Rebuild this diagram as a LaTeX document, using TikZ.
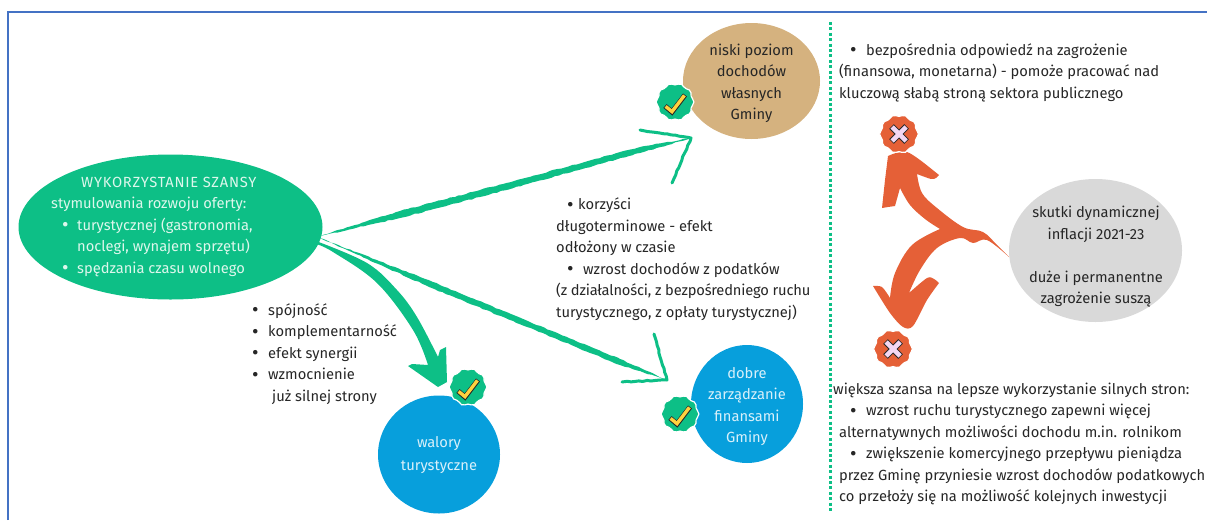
\documentclass[tikz,border=0pt]{standalone}
\usepackage{fontspec}
\setmainfont{Fira Sans}
\definecolor{gr}{HTML}{0DBF86}
\definecolor{rd}{HTML}{E56037}
\definecolor{tan1}{HTML}{D5B27F}
\definecolor{bl}{HTML}{079FDC}
\definecolor{gy}{HTML}{D9D9D9}
\definecolor{frm}{HTML}{4472C4}
\definecolor{ink}{HTML}{262626}
\definecolor{yl}{HTML}{FFD23F}
\definecolor{pk}{HTML}{F3D7F3}
\definecolor{lgr}{HTML}{DDF7EC}
\definecolor{lbl}{HTML}{D8F0FA}
\newcommand{\blt}[2]{\hspace*{#1pt}\makebox[#2pt][l]{\raisebox{-1.6pt}{\fontsize{20}{20}\selectfont •}}}
\usetikzlibrary{shapes.geometric,decorations.pathmorphing}
\tikzset{
  txt/.style={inner sep=0pt,anchor=north west,align=left,text=ink,font=\fontsize{14.7}{21.5}\selectfont},
  inner/.style={inner sep=0pt,align=center,font=\fontsize{14.7}{21.5}\selectfont},
  blob/.style={ellipse,fill=#1,inner sep=0pt},
  wavy/.style={fill=#1,draw=white,line width=1.2pt},
  badgeshape/.pic={\path[pic actions] plot[domain=0:350,samples=36,smooth cycle] ({(#1+0.9*cos(10*\x))*cos(\x)},{(#1+0.9*cos(10*\x))*sin(\x)});},
  checkmark/.pic={
    \draw[ink,line width=5pt,line join=miter] (-10,4)--(-3,10)--(10,-7);
    \draw[yl,line width=3.4pt,line join=miter] (-9.4,4.4)--(-3,9.6)--(9.4,-6.6);},
  crossmark/.pic={
    \draw[ink,line width=6.4pt] (-7.5,-7.5)--(7.5,7.5) (-7.5,7.5)--(7.5,-7.5);
    \draw[pk,line width=4.6pt] (-7,-7)--(7,7) (-7,7)--(7,-7);},
  rough/.style={decorate,decoration={random steps,segment length=4pt,amplitude=0.5pt}},
  barb/.style={draw=gr,line width=3pt,line cap=round,line join=round,rough},
}
\pgfmathsetseed{7}
\begin{document}
\begin{tikzpicture}[x=1pt,y=-1pt]
\useasboundingbox (0,0) rectangle (1207,520);
% frame and divider
\coordinate (fa) at (8,520); \coordinate (fb) at (8,12); \coordinate (fc) at (1207,12);
\draw[frm,line width=1.8pt] (fa)--(fb)--(fc);
\coordinate (da) at (830,22); \coordinate (db) at (830,512);
\draw[gr,line width=3pt,dash pattern=on 3pt off 2.4pt] (da)--(db);
% blobs
\node[blob=gr,minimum width=304pt,minimum height=145pt] (src) at (170.5,227) {};
\node[blob=tan1,minimum width=137pt,minimum height=116pt] (tanb) at (751.5,81) {};
\node[blob=bl,minimum width=122pt,minimum height=118pt] (wal) at (439,454.5) {};
\node[blob=bl,minimum width=112pt,minimum height=118pt] (dob) at (747,404) {};
\node[blob=gy,minimum width=173pt,minimum height=143pt] (sk) at (1095.5,250.5) {};
% thin green arrows
\coordinate (upS) at (320,236); \coordinate (upT) at (691,138);
\coordinate (upA) at (640,130); \coordinate (upB) at (672,183);
\fill[gr,rough] (upS) -- (400,211) -- (480,190) -- (640,147) -- (upT) -- (640,153) -- (480,197) -- (400,218) -- cycle;
\draw[barb] (upA) -- (upT) -- (upB);
\coordinate (dnS) at (320,238); \coordinate (dnT) at (667,380);
\coordinate (dnA) at (654,334); \coordinate (dnB) at (622,382);
\fill[gr,rough] (dnS) -- (433,282) -- (620,359) -- (dnT) -- (620,365) -- (433,288.5) -- cycle;
\draw[barb] (dnA) -- (dnT) -- (dnB);
% thick green arrow
\fill[gr,line join=round] plot[smooth,tension=0.6] coordinates {(316,241) (367,263) (397,290) (417,317) (438,357)}
  -- (440,350) -- (446,347) -- (447,382) -- (438,387) -- (408,366) -- (412,364) -- (428,365)
  -- plot[smooth,tension=0.6] coordinates {(428,365) (413,330) (377,283) (333,252) (316,244)} -- cycle;
% thick red arrow
\fill[rd,line join=round]
  plot[smooth,tension=0.5] coordinates {(888,156) (896,153) (907,152) (920,160) (939,175)}
  -- plot[smooth,tension=0.5] coordinates {(939,175) (936,178) (931,179) (917,174)}
  -- plot[smooth,tension=0.6] coordinates {(917,174) (922,193) (937,208) (963,227) (983,232) (997,245) (1009,257)}
  -- plot[smooth,tension=0.6] coordinates {(1009,257) (987,240) (973,243) (960,238) (937,248) (920,270) (909,293)}
  -- plot[smooth,tension=0.5] coordinates {(909,293) (927,278) (934,279) (939,283)}
  -- plot[smooth,tension=0.5] coordinates {(939,283) (927,300) (913,326) (903,327) (890,313) (873,286)}
  -- plot[smooth,tension=0.5] coordinates {(873,286) (882,287) (890,298)}
  -- plot[smooth,tension=0.6] coordinates {(890,298) (895,273) (912,245) (940,229)}
  -- plot[smooth,tension=0.6] coordinates {(940,229) (925,219) (910,205) (900,188)}
  -- (895,206) -- (888,207) -- (882,208) -- (885,180) -- cycle;
% text in blobs
\node[inner,text=ink] at (tanb.center) [yshift=-2.5pt] {niski poziom\\dochodów\\własnych\\Gminy};
\node[inner,text=lbl] at (wal.center) [yshift=-0.5pt] {walory\\[2pt]turystyczne};
\node[inner,text=lbl] at (dob.center) [yshift=-2.5pt] {dobre\\zarządzanie\\finansami\\Gminy};
\node[inner,text=ink] at (1096,257) {skutki dynamicznej\\inflacji 2021-23\\[21.5pt]duże i permanentne\\zagrożenie suszą};
\node[txt,text=lgr] (t1) at (51,172) {\strut\hspace*{30pt}{\addfontfeature{LetterSpace=5}WYKORZYSTANIE SZANSY}\\stymulowania rozwoju oferty:\\\blt{11}{15}turystycznej (gastronomia,\\\hspace*{26pt}noclegi, wynajem sprzętu)\\\blt{11}{15}spędzania czasu wolnego};
\node[txt] (t2) at (252,300) {\strut\blt{0}{16}spójność\\\blt{0}{16}komplementarność\\\blt{0}{16}efekt synergii\\\blt{0}{16}wzmocnienie\\\hspace*{20pt}już silnej strony};
\node[txt] (t3) at (556,194.5) {\strut\blt{11}{11}korzyści\\długoterminowe - efekt\\odłożony w czasie\\\blt{11}{16}wzrost dochodów z podatków\\{\addfontfeature{LetterSpace=-1.2}(z działalności, z bezpośredniego ruchu}\\turystycznego, z opłaty turystycznej)};
\node[txt] (t4) at (839,40) {\strut\blt{11}{16}bezpośrednia odpowiedź na zagrożenie\\(finansowa, monetarna) - pomoże pracować nad\\kluczową słabą stroną sektora publicznego};
\node[txt] (t5) at (833,379) {\strut większa szansa na lepsze wykorzystanie silnych stron:\\\hspace*{6pt}\blt{11}{16}wzrost ruchu turystycznego zapewni więcej\\\hspace*{6pt}alternatywnych możliwości dochodu m.in.  rolnikom\\\hspace*{6pt}\blt{11}{16}zwiększenie komercyjnego przepływu pieniądza\\\hspace*{6pt}przez Gminę przyniesie wzrost dochodów podatkowych\\\hspace*{6pt}co przełoży się na możliwość kolejnych inwestycji};
% badges
\pic[wavy=gr] at (675,102) {badgeshape=18};
\pic at (675,102) {checkmark};
\pic[wavy=gr] at (468,387) {badgeshape=18};
\pic at (468,387) {checkmark};
\pic[wavy=gr] at (680,414) {badgeshape=18};
\pic at (680,414) {checkmark};
\pic[wavy=rd] at (899,134) {badgeshape=18.5};
\pic at (899,134) {crossmark};
\pic[wavy=rd] at (893,349) {badgeshape=18.5};
\pic at (893,349) {crossmark};
\end{tikzpicture}
\end{document}
